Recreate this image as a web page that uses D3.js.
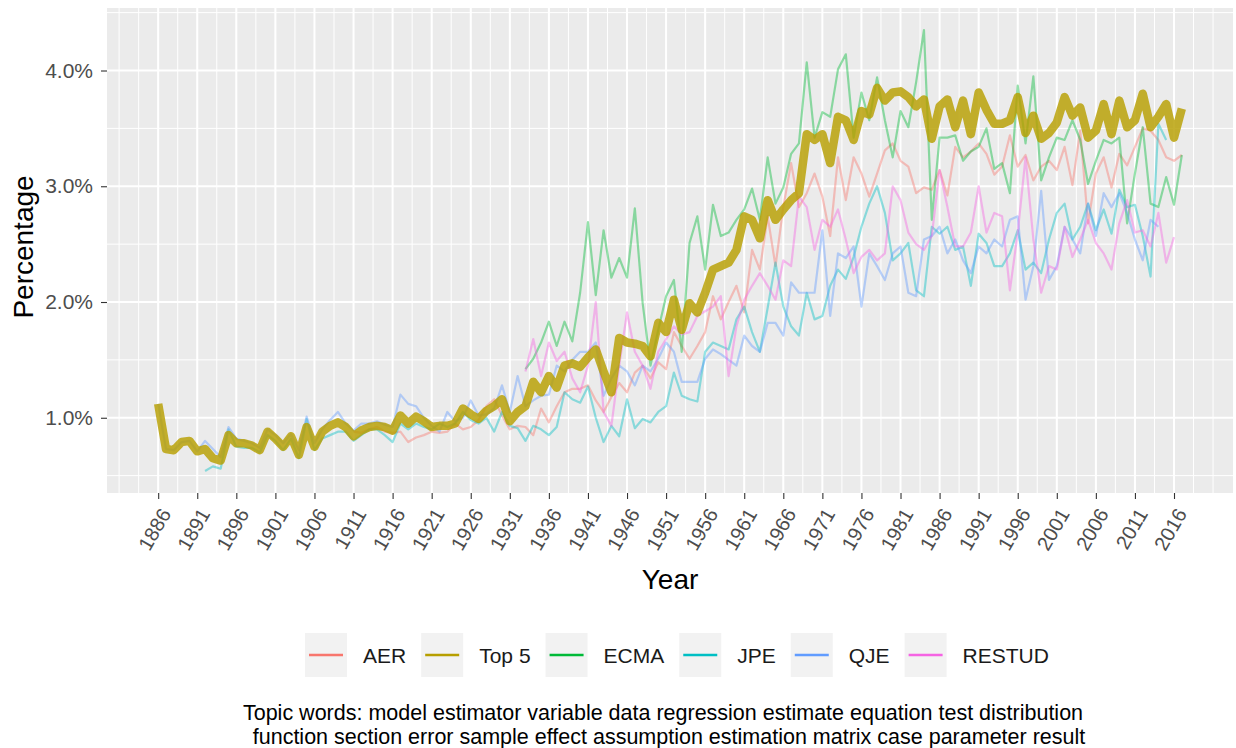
<html>
<head>
  <meta charset="UTF-8">
  <title>Topic share by journal</title>
  <script src='https://d3js.org/d3.v7.min.js'></script>
</head>
<style>
body { margin: 0; background: #fff; }
text { font-family: "Liberation Sans", Arial, Helvetica, sans-serif; }
.tick line { stroke: #333; stroke-width: 1.1; }
</style>
<body>
  <script>

var width = 1236,
    height = 748;

// journals, in legend order
var journals = ['AER', 'Top 5', 'ECMA', 'JPE', 'QJE', 'RESTUD'];
var colors = ['#F8766D', '#B79F00', '#00BA38', '#00BFC4', '#619CFF', '#F564E3'];

// share of topic words (%), one value a year
var top5Years = d3.range(1886, 2018);
var top5 = [
  1.12,0.73,0.72,0.79,0.80,0.71,0.73,0.65,0.63,0.85,
  0.78,0.78,0.76,0.72,0.88,0.82,0.75,0.84,0.68,0.92,
  0.75,0.88,0.93,0.96,0.92,0.84,0.89,0.92,0.93,0.92,
  0.89,1.02,0.95,1.01,0.97,0.92,0.93,0.93,0.95,1.08,
  1.03,0.99,1.06,1.10,1.16,0.97,1.05,1.10,1.31,1.22,
  1.36,1.26,1.45,1.47,1.44,1.52,1.59,1.40,1.22,1.69,
  1.65,1.64,1.62,1.53,1.82,1.74,2.02,1.76,1.99,1.91,
  2.08,2.28,2.31,2.34,2.45,2.74,2.71,2.55,2.88,2.71,
  2.80,2.88,2.94,3.45,3.40,3.45,3.20,3.60,3.57,3.40,
  3.65,3.62,3.85,3.74,3.81,3.82,3.77,3.69,3.75,3.41,
  3.69,3.75,3.51,3.74,3.45,3.81,3.66,3.54,3.54,3.57,
  3.77,3.46,3.61,3.41,3.46,3.55,3.77,3.61,3.68,3.42,
  3.48,3.71,3.45,3.74,3.51,3.57,3.80,3.51,3.60,3.71,
  3.42,3.67];

var aerYears = d3.range(1911, 2018);
var aer = [
  0.88,0.87,0.90,0.92,0.88,0.87,0.88,0.79,0.83,0.85,
  0.88,0.87,0.88,0.95,0.90,0.92,0.98,1.10,1.16,1.02,
  0.90,0.93,0.92,0.85,1.08,0.96,1.10,1.22,1.25,1.25,
  1.28,1.15,1.05,1.18,1.30,1.22,1.39,1.45,1.34,1.48,
  1.42,1.74,1.62,1.51,1.62,1.74,2.05,1.85,2.00,2.14,
  1.91,2.45,2.28,2.74,2.31,2.82,3.20,2.82,2.94,3.11,
  2.91,2.57,3.25,2.88,3.25,3.11,2.91,3.11,3.31,3.37,
  3.22,3.17,2.94,2.99,2.97,3.14,2.92,3.34,3.25,3.30,
  3.37,3.28,3.10,3.17,3.44,3.17,3.27,3.05,3.17,3.22,
  3.14,3.34,3.01,3.48,2.68,3.11,3.25,2.99,3.28,3.18,
  3.34,3.50,3.48,3.40,3.25,3.22,3.27];

var ecmaYears = d3.range(1933, 2018);
var ecma = [
  1.42,1.51,1.65,1.83,1.62,1.83,1.66,2.08,2.69,2.06,
  2.62,2.21,2.38,2.21,2.81,1.99,1.45,1.76,2.05,2.19,
  1.57,2.51,2.74,2.28,2.84,2.57,2.60,2.71,2.80,2.98,
  2.71,3.25,2.85,2.99,3.28,3.37,4.07,3.42,3.64,3.60,
  4.01,4.14,3.42,3.81,3.57,3.94,3.57,3.25,3.65,3.51,
  3.90,4.35,2.71,3.42,3.42,3.44,3.22,3.30,3.34,3.50,
  3.15,3.20,2.94,3.87,3.37,3.95,3.05,3.25,3.42,3.40,
  3.57,3.40,3.02,3.22,3.40,3.37,3.42,2.68,3.11,3.51,
  2.85,2.82,3.08,2.84,3.27];

var jpeYears = d3.range(1892, 2016);
var jpe = [
  0.54,0.58,0.56,0.90,0.75,0.74,0.74,0.70,0.85,0.80,
  0.72,0.82,0.65,0.99,0.72,0.82,0.85,0.88,0.88,0.80,
  0.85,0.90,0.90,0.85,0.79,0.95,0.90,0.95,0.92,0.90,
  0.95,0.92,0.95,1.05,0.98,0.95,1.00,0.88,1.05,0.93,
  0.91,0.80,0.93,0.90,0.85,0.92,1.22,1.16,1.13,1.27,
  1.00,0.79,0.93,0.84,1.16,0.91,0.99,0.96,1.05,1.10,
  1.39,1.19,1.16,1.14,1.57,1.65,1.62,1.59,1.85,1.96,
  1.74,1.57,1.95,2.34,1.96,1.79,1.71,2.08,1.85,1.88,
  2.14,2.28,2.20,2.39,2.65,2.85,3.00,2.77,2.36,2.42,
  2.51,2.10,2.05,2.65,2.59,2.65,2.45,2.48,2.14,2.59,
  2.51,2.31,2.31,2.42,2.62,2.28,2.34,2.25,2.54,2.77,
  2.85,2.54,2.65,2.85,2.62,2.80,2.59,2.97,2.82,2.84,
  2.57,2.22,3.54,3.40];

var qjeYears = d3.range(1886, 2015);
var qje = [
  1.12,0.73,0.72,0.79,0.80,0.71,0.80,0.73,0.66,0.92,
  0.82,0.80,0.78,0.74,0.90,0.85,0.78,0.86,0.72,1.01,
  0.78,0.90,0.98,1.05,0.95,0.89,0.95,0.95,0.97,0.94,
  0.92,1.20,1.12,1.10,1.00,0.93,0.88,1.05,0.97,1.00,
  1.15,1.02,1.03,1.08,1.28,1.05,1.36,1.10,1.15,1.19,
  1.20,1.45,1.40,1.50,1.57,1.57,1.65,1.19,1.34,1.45,
  1.40,1.28,1.45,1.40,1.51,1.65,1.57,1.31,1.31,1.31,
  1.51,1.59,1.55,1.50,1.45,1.71,1.62,1.57,1.82,1.82,
  1.71,2.17,2.08,2.08,2.08,2.62,1.88,2.42,2.38,2.48,
  1.96,2.42,2.31,2.19,2.42,2.48,2.08,2.05,2.54,2.57,
  2.65,2.42,2.54,2.36,2.25,2.48,2.42,2.54,2.48,2.71,
  2.74,2.02,2.31,2.96,2.19,2.31,2.65,2.54,2.42,2.85,
  2.57,2.94,2.82,2.94,2.77,2.54,2.36,2.71,2.65];

var restudYears = d3.range(1933, 2017);
var restud = [
  1.40,1.68,1.36,1.65,1.49,1.57,1.34,1.22,1.45,2.00,
  1.05,0.93,1.45,1.91,1.57,1.45,1.25,1.57,1.68,1.79,
  1.72,1.74,1.88,1.92,1.96,2.05,1.36,1.79,2.02,2.14,
  2.25,2.14,2.02,2.36,2.31,2.91,2.82,2.45,2.71,2.65,
  2.80,2.54,2.25,2.39,2.45,2.36,2.42,3.00,2.88,2.60,
  2.50,2.45,2.57,3.14,2.82,2.48,2.48,2.60,3.00,2.60,
  2.77,2.74,2.10,2.60,3.25,2.54,2.08,2.31,2.28,2.65,
  2.39,2.54,2.71,2.51,2.42,2.28,2.68,2.88,2.60,2.62,
  2.48,2.77,2.34,2.56];

var xTicks = d3.range(1886, 2017, 5);
var yTicks = [1, 2, 3, 4];

var captionLines = [
  'Topic words: model estimator variable data regression estimate equation test distribution',
  'function section error sample effect assumption estimation matrix case parameter result'
];

var panel = {left: 107, right: 1233, top: 8, bottom: 493};

var svg = d3.select('body')
  .append('svg')
  .attr('width', width)
  .attr('height', height);

svg.append('rect')
  .attr('width', width)
  .attr('height', height)
  .attr('fill', '#fff');

var x = d3.scaleLinear()
  .domain([1886 - 6.55, 2017 + 6.55])
  .range([panel.left, panel.right]);

var y = d3.scaleLinear()
  .domain([0.35, 4.54])
  .range([panel.bottom, panel.top]);

// panel and grid
svg.append('rect')
  .attr('x', panel.left)
  .attr('y', panel.top)
  .attr('width', panel.right - panel.left)
  .attr('height', panel.bottom - panel.top)
  .attr('fill', '#EBEBEB');

var grid = svg.append('g');

grid.selectAll('.xminor')
  .data(d3.range(1881, 2022, 2.5))
  .enter()
  .append('line')
  .attr('x1', d => x(d)).attr('x2', d => x(d))
  .attr('y1', panel.top).attr('y2', panel.bottom)
  .attr('stroke', '#fff')
  .attr('stroke-width', 1);

grid.selectAll('.yminor')
  .data([0.5, 1.5, 2.5, 3.5, 4.5])
  .enter()
  .append('line')
  .attr('x1', panel.left).attr('x2', panel.right)
  .attr('y1', d => y(d)).attr('y2', d => y(d))
  .attr('stroke', '#fff')
  .attr('stroke-width', 1);

grid.selectAll('.xmajor')
  .data(xTicks)
  .enter()
  .append('line')
  .attr('x1', d => x(d)).attr('x2', d => x(d))
  .attr('y1', panel.top).attr('y2', panel.bottom)
  .attr('stroke', '#fff')
  .attr('stroke-width', 2);

grid.selectAll('.ymajor')
  .data(yTicks)
  .enter()
  .append('line')
  .attr('x1', panel.left).attr('x2', panel.right)
  .attr('y1', d => y(d)).attr('y2', d => y(d))
  .attr('stroke', '#fff')
  .attr('stroke-width', 2);

// lines
var line = d3.line()
  .x(d => x(d[0]))
  .y(d => y(d[1]));

function pairs(years, vals) {
  return years.map((yr, i) => [yr, vals[i]]);
}

var thin = [
  {name: 'AER', data: pairs(aerYears, aer)},
  {name: 'ECMA', data: pairs(ecmaYears, ecma)},
  {name: 'JPE', data: pairs(jpeYears, jpe)},
  {name: 'QJE', data: pairs(qjeYears, qje)},
  {name: 'RESTUD', data: pairs(restudYears, restud)}
];

var lines = svg.append('g');

lines.selectAll('path')
  .data(thin)
  .enter()
  .append('path')
  .attr('d', d => line(d.data))
  .attr('fill', 'none')
  .attr('stroke', d => colors[journals.indexOf(d.name)])
  .attr('stroke-opacity', 0.42)
  .attr('stroke-width', 2.2)
  .attr('stroke-linejoin', 'round');

lines.append('path')
  .attr('d', line(pairs(top5Years, top5)))
  .attr('fill', 'none')
  .attr('stroke', colors[1])
  .attr('stroke-opacity', 0.82)
  .attr('stroke-width', 8.5)
  .attr('stroke-linejoin', 'round')
  .attr('stroke-linecap', 'butt');

// axes
var yAxis = svg.append('g')
  .attr('transform', 'translate(' + panel.left + ',0)')
  .call(d3.axisLeft(y)
    .tickValues(yTicks)
    .tickFormat(d => d.toFixed(1) + '%')
    .tickSize(6)
    .tickPadding(8));

yAxis.select('.domain').remove();
yAxis.selectAll('text')
  .attr('fill', '#4D4D4D')
  .style('font-size', '21px');

var xAxis = svg.append('g')
  .attr('transform', 'translate(0,' + panel.bottom + ')')
  .call(d3.axisBottom(x)
    .tickValues(xTicks)
    .tickFormat(d3.format('d'))
    .tickSize(6));

xAxis.select('.domain').remove();
xAxis.selectAll('text')
  .attr('fill', '#4D4D4D')
  .style('font-size', '20px')
  .attr('text-anchor', 'end')
  .attr('x', 0)
  .attr('y', 0)
  .attr('dy', '0.35em')
  .attr('transform', 'translate(7,17) rotate(-60)');

// axis titles
svg.append('text')
  .attr('x', (panel.left + panel.right) / 2)
  .attr('y', 589)
  .attr('text-anchor', 'middle')
  .style('font-size', '28px')
  .text('Year');

svg.append('text')
  .attr('transform', 'translate(33,247) rotate(-90)')
  .attr('text-anchor', 'middle')
  .style('font-size', '28px')
  .text('Percentage');

// legend
var legend = svg.append('g');
var lx = 305;
journals.forEach(function(name, i) {
  var g = legend.append('g').attr('transform', 'translate(' + lx + ',633)');
  g.append('rect')
    .attr('width', 42).attr('height', 44)
    .attr('fill', '#F2F2F2');
  g.append('line')
    .attr('x1', 4).attr('x2', 38)
    .attr('y1', 22).attr('y2', 22)
    .attr('stroke', colors[i])
    .attr('stroke-width', 2.5);
  var t = g.append('text')
    .attr('x', 58).attr('y', 30)
    .style('font-size', '21px')
    .attr('fill', '#1A1A1A')
    .text(name);
  lx += 58 + t.node().getComputedTextLength() + 15;
});

// caption
svg.selectAll('.caption')
  .data(captionLines)
  .enter()
  .append('text')
  .attr('x', (d, i) => i === 0 ? 663 : 669)
  .attr('y', (d, i) => 720 + i * 24)
  .attr('text-anchor', 'middle')
  .style('font-size', '21.5px')
  .attr('fill', '#000')
  .text(d => d);

  </script>
</body>
</html>
